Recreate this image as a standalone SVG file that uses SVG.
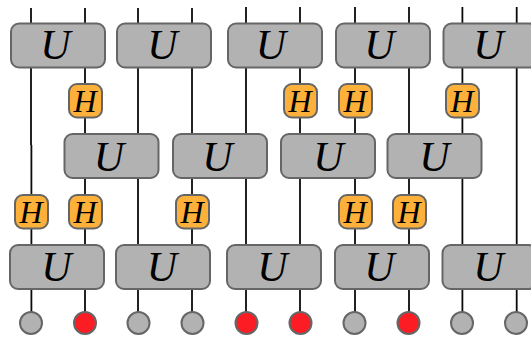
<svg xmlns="http://www.w3.org/2000/svg" width="531" height="337" viewBox="0 0 531 337">
<style>
.w{stroke:#0a0a0a;stroke-width:1.8;fill:none}
.u{fill:#b2b2b2;stroke:#666;stroke-width:2}
.h{fill:#fdb03a;stroke:#666;stroke-width:2}
.q{stroke:#666;stroke-width:2;fill:#b2b2b2}
.r{stroke:#666;stroke-width:2;fill:#fc1c24}
text{font-family:"Liberation Serif",serif;font-style:italic;fill:#000;text-anchor:middle}
.tu{font-size:42px}
.th{font-size:32px}
</style>
<g id="connectors">
<path class="w" d="M31 8V145M31.400 145V323"/>
<path class="w" d="M85 8V323"/>
<path class="w" d="M138 8V323"/>
<path class="w" d="M192 8V323"/>
<path class="w" d="M246 7V323"/>
<path class="w" d="M300 7V323"/>
<path class="w" d="M355 7V323"/>
<path class="w" d="M409 7V323"/>
<path class="w" d="M462.400 7V323"/>
<path class="w" d="M516.700 7V323"/>
</g>
<g id="u1"><rect class="u" x="11" y="23.500" width="94" height="44" rx="8"/><text class="tu" x="55.500" y="58.500">U</text></g>
<g id="u2"><rect class="u" x="117" y="23.500" width="94" height="44" rx="8"/><text class="tu" x="162.500" y="58.500">U</text></g>
<g id="u3"><rect class="u" x="228" y="23.500" width="94" height="44" rx="8"/><text class="tu" x="271" y="58.500">U</text></g>
<g id="u4"><rect class="u" x="336" y="23.500" width="94" height="44" rx="8"/><text class="tu" x="379.500" y="58.500">U</text></g>
<g id="u5"><rect class="u" x="443.500" y="23.500" width="94" height="44" rx="8"/><text class="tu" x="488.500" y="58.500">U</text></g>
<g id="h1"><rect class="h" x="69" y="84" width="33" height="33.500" rx="8"/><text class="th" x="85" y="111.500">H</text></g>
<g id="h2"><rect class="h" x="284" y="84" width="33" height="33.500" rx="8"/><text class="th" x="300" y="111.500">H</text></g>
<g id="h3"><rect class="h" x="339" y="84" width="33" height="33.500" rx="8"/><text class="th" x="355" y="111.500">H</text></g>
<g id="h4"><rect class="h" x="446" y="84" width="33" height="33.500" rx="8"/><text class="th" x="462" y="111.500">H</text></g>
<g id="u6"><rect class="u" x="64.500" y="134" width="94" height="44" rx="8"/><text class="tu" x="109" y="171">U</text></g>
<g id="u7"><rect class="u" x="173" y="134" width="94" height="44" rx="8"/><text class="tu" x="217.500" y="171">U</text></g>
<g id="u8"><rect class="u" x="281" y="134" width="94" height="44" rx="8"/><text class="tu" x="328.500" y="171">U</text></g>
<g id="u9"><rect class="u" x="387.500" y="134" width="94" height="44" rx="8"/><text class="tu" x="434.500" y="171">U</text></g>
<g id="h5"><rect class="h" x="15" y="195" width="33" height="33.500" rx="8"/><text class="th" x="31" y="222.500">H</text></g>
<g id="h6"><rect class="h" x="69" y="195" width="33" height="33.500" rx="8"/><text class="th" x="85" y="222.500">H</text></g>
<g id="h7"><rect class="h" x="176" y="195" width="33" height="33.500" rx="8"/><text class="th" x="192" y="222.500">H</text></g>
<g id="h8"><rect class="h" x="339" y="195" width="33" height="33.500" rx="8"/><text class="th" x="355" y="222.500">H</text></g>
<g id="h9"><rect class="h" x="393" y="195" width="33" height="33.500" rx="8"/><text class="th" x="409" y="222.500">H</text></g>
<g id="u10"><rect class="u" x="10" y="245" width="94" height="44" rx="8"/><text class="tu" x="56.500" y="281">U</text></g>
<g id="u11"><rect class="u" x="116" y="245" width="94" height="44" rx="8"/><text class="tu" x="162" y="281">U</text></g>
<g id="u12"><rect class="u" x="227" y="245" width="94" height="44" rx="8"/><text class="tu" x="272.500" y="281">U</text></g>
<g id="u13"><rect class="u" x="335" y="245" width="94" height="44" rx="8"/><text class="tu" x="379.500" y="281">U</text></g>
<g id="u14"><rect class="u" x="442.500" y="245" width="94" height="44" rx="8"/><text class="tu" x="488.500" y="281">U</text></g>
<g id="q1"><circle class="q" cx="31" cy="323" r="11"/></g>
<g id="q2"><circle class="r" cx="85" cy="323" r="11"/></g>
<g id="q3"><circle class="q" cx="138.500" cy="323" r="11"/></g>
<g id="q4"><circle class="q" cx="192.500" cy="323" r="11"/></g>
<g id="q5"><circle class="r" cx="246.500" cy="323" r="11"/></g>
<g id="q6"><circle class="r" cx="300.500" cy="323" r="11"/></g>
<g id="q7"><circle class="q" cx="354.500" cy="323" r="11"/></g>
<g id="q8"><circle class="r" cx="408.500" cy="323" r="11"/></g>
<g id="q9"><circle class="q" cx="462" cy="323" r="11"/></g>
<g id="q10"><circle class="q" cx="516" cy="323" r="11"/></g>
</svg>
